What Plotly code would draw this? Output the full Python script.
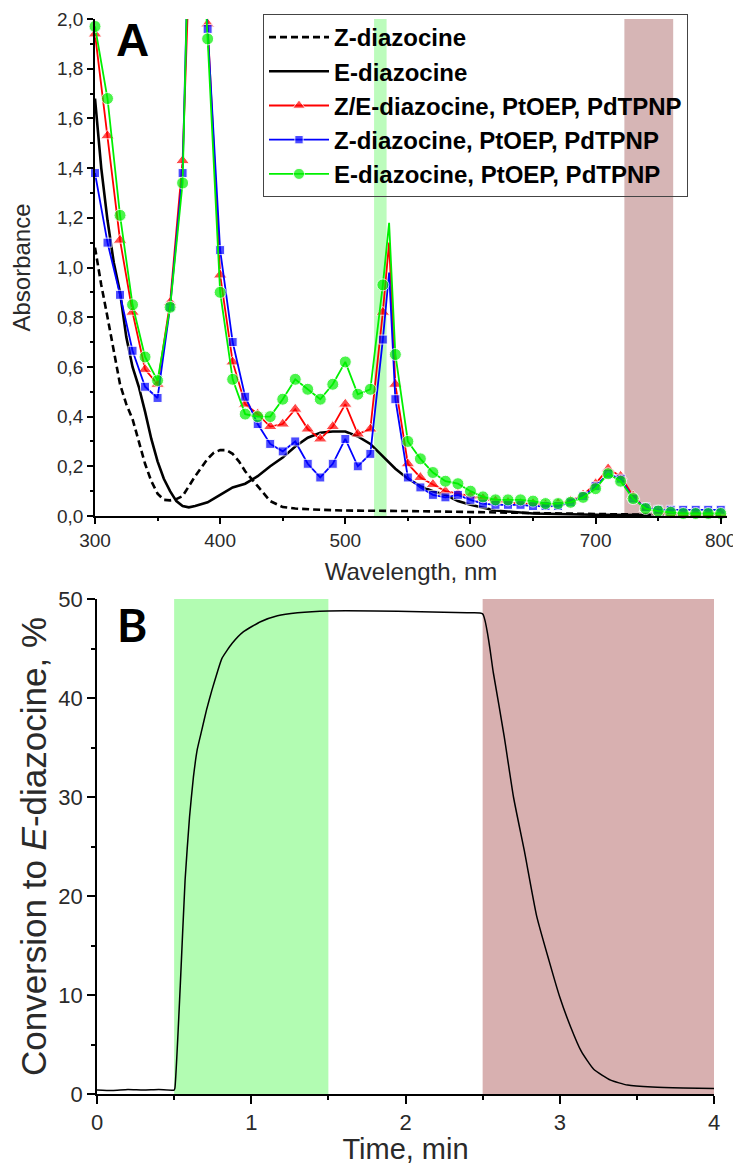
import plotly.graph_objects as go

# ---------------- Panel A data ----------------
wl_Z = [300, 305, 310, 315, 320, 325, 330, 335, 340, 345, 350, 355, 360, 365, 370, 380, 390, 395,
        400, 405, 410, 415, 420, 430, 440, 450, 460, 480, 500, 550, 600, 650, 700, 750, 800]
abs_Z = [1.08, 0.93, 0.80, 0.66, 0.53, 0.45, 0.39, 0.30, 0.21, 0.14, 0.09, 0.065, 0.063, 0.068, 0.08,
         0.16, 0.23, 0.255, 0.265, 0.265, 0.25, 0.22, 0.18, 0.12, 0.06, 0.036, 0.03, 0.025, 0.022,
         0.02, 0.015, 0.01, 0.008, 0.005, 0.004]

wl_E = [300, 305, 310, 315, 320, 325, 330, 335, 340, 345, 350, 355, 360, 365, 370, 375, 380, 390,
        400, 410, 420, 430, 440, 450, 460, 470, 480, 490, 500, 510, 520, 530, 540, 550, 560, 570,
        580, 590, 600, 620, 650, 700, 750, 800]
abs_E = [1.68, 1.40, 1.19, 1.02, 0.90, 0.72, 0.60, 0.52, 0.42, 0.31, 0.22, 0.15, 0.10, 0.06, 0.04,
         0.035, 0.04, 0.055, 0.085, 0.115, 0.13, 0.16, 0.20, 0.235, 0.28, 0.315, 0.335, 0.34, 0.34,
         0.32, 0.29, 0.24, 0.19, 0.15, 0.12, 0.10, 0.085, 0.06, 0.045, 0.022, 0.01, 0.005, 0.003, 0.003]

wl_mix = [300, 310, 320, 330, 340, 350, 360, 370, 375, 380, 385, 390, 400, 410, 420, 430, 440, 450,
          460, 470, 480, 490, 500, 510, 520, 530, 535, 540, 550, 560, 570, 580, 590, 600, 610, 620,
          630, 640, 650, 660, 670, 680, 690, 700, 710, 720, 730, 740, 750, 760, 770, 780, 790, 800]

abs_ZE_sens = [1.94, 1.53, 1.11, 0.82, 0.59, 0.53, 0.86, 1.43, 2.4, 2.9, 2.4, 1.98, 0.97, 0.62, 0.45,
               0.41, 0.36, 0.37, 0.43, 0.35, 0.31, 0.36, 0.45, 0.33, 0.35, 0.82, 1.10, 0.53, 0.21,
               0.155, 0.127, 0.10, 0.09, 0.08, 0.07, 0.06, 0.055, 0.05, 0.05, 0.045, 0.05, 0.06,
               0.085, 0.13, 0.19, 0.16, 0.08, 0.03, 0.015, 0.01, 0.01, 0.01, 0.01, 0.01]

abs_Z_sens = [1.38, 1.10, 0.89, 0.665, 0.52, 0.475, 0.84, 1.38, 2.4, 2.9, 2.4, 1.96, 1.07, 0.70, 0.48,
              0.37, 0.29, 0.26, 0.30, 0.21, 0.155, 0.21, 0.31, 0.20, 0.25, 0.71, 0.98, 0.47, 0.155,
              0.115, 0.085, 0.075, 0.085, 0.065, 0.05, 0.045, 0.045, 0.045, 0.04, 0.04, 0.04, 0.055,
              0.08, 0.12, 0.17, 0.15, 0.07, 0.035, 0.025, 0.025, 0.025, 0.025, 0.025, 0.025]

abs_E_sens = [1.97, 1.68, 1.21, 0.85, 0.64, 0.545, 0.84, 1.34, 2.4, 2.9, 2.4, 1.92, 0.90, 0.55, 0.41,
              0.40, 0.40, 0.47, 0.55, 0.51, 0.47, 0.53, 0.62, 0.49, 0.51, 0.93, 1.18, 0.65, 0.30,
              0.23, 0.175, 0.14, 0.13, 0.10, 0.077, 0.065, 0.065, 0.065, 0.06, 0.05, 0.05, 0.055,
              0.075, 0.11, 0.17, 0.14, 0.07, 0.03, 0.02, 0.015, 0.01, 0.01, 0.01, 0.01]

band_green_A = [523, 533]
band_red_A = [723, 762]

# ---------------- Panel B data ----------------
t_min = [0, 0.1, 0.2, 0.3, 0.4, 0.5, 0.505, 0.54, 0.571, 0.60, 0.625, 0.65, 0.68, 0.71, 0.745, 0.78,
         0.81, 0.875, 0.95, 1.06, 1.17, 1.3, 1.5, 1.8, 2.1, 2.4, 2.5, 2.57, 2.64, 2.70, 2.77, 2.85,
         2.93, 3.0, 3.07, 3.14, 3.22, 3.33, 3.44, 3.6, 3.8, 4.0]
conv = [0.4, 0.35, 0.45, 0.4, 0.45, 0.4, 0.6, 11.0, 21.6, 28.0, 32.0, 34.8, 36.8, 38.8, 40.8, 42.6,
        44.0, 45.5, 46.7, 47.7, 48.3, 48.6, 48.8, 48.8, 48.7, 48.6, 48.5, 42.5, 36.1, 30.0, 24.6, 18.0,
        13.5, 9.8, 6.8, 4.3, 2.5, 1.4, 0.9, 0.7, 0.6, 0.55]

band_green_B = [0.5, 1.5]
band_red_B = [2.5, 4.0]

# page has an 8px body margin: figure is sized so it fills the 741x1165 window
OFF = 8
W, H = 741 - OFF, 1165 - OFF
FONT = "Liberation Sans, Arial, sans-serif"
TICKC = "#2a2a2a"
GREEN = "#00f000"


def px_x(x):
    return (x - OFF) / W


def px_y(y):
    return (H - (y - OFF)) / H


def msizes(wl, vals, s):
    return [s if (w % 10 == 0 and v <= 2.0) else 0 for w, v in zip(wl, vals)]


fig = go.Figure()

fig.add_trace(go.Scatter(x=wl_Z, y=abs_Z, mode="lines", name="Z-diazocine",
                         line=dict(color="black", width=2.6, dash="7px,4px"),
                         xaxis="x", yaxis="y"))
fig.add_trace(go.Scatter(x=wl_E, y=abs_E, mode="lines", name="E-diazocine",
                         line=dict(color="black", width=2.6),
                         xaxis="x", yaxis="y"))
fig.add_trace(go.Scatter(x=wl_mix, y=abs_ZE_sens, mode="lines+markers",
                         name="Z/E-diazocine, PtOEP, PdTPNP",
                         line=dict(color="#ff0000", width=1.8),
                         marker=dict(symbol="triangle-up", color="#ff0000",
                                     size=msizes(wl_mix, abs_ZE_sens, 12)),
                         cliponaxis=False, xaxis="x", yaxis="y"))
fig.add_trace(go.Scatter(x=wl_mix, y=abs_Z_sens, mode="lines+markers",
                         name="Z-diazocine, PtOEP, PdTPNP",
                         line=dict(color="#0000ff", width=1.8),
                         marker=dict(symbol="square", color="#0000ff",
                                     size=msizes(wl_mix, abs_Z_sens, 9)),
                         cliponaxis=False, xaxis="x", yaxis="y"))
fig.add_trace(go.Scatter(x=wl_mix, y=abs_E_sens, mode="lines+markers",
                         name="E-diazocine, PtOEP, PdTPNP",
                         line=dict(color=GREEN, width=1.8),
                         marker=dict(symbol="circle", color=GREEN,
                                     size=msizes(wl_mix, abs_E_sens, 12)),
                         cliponaxis=False, xaxis="x", yaxis="y"))

fig.add_trace(go.Scatter(x=t_min, y=conv, mode="lines", showlegend=False,
                         line=dict(color="black", width=1.5, shape="spline", smoothing=0.5),
                         xaxis="x2", yaxis="y2"))

shapes = [
    dict(type="rect", xref="x", yref="y", x0=band_green_A[0], x1=band_green_A[1], y0=0, y1=2,
         fillcolor="rgb(188,252,188)", line=dict(width=0), layer="below"),
    dict(type="rect", xref="x", yref="y", x0=band_red_A[0], x1=band_red_A[1], y0=0, y1=2,
         fillcolor="rgb(214,181,181)", line=dict(width=0), layer="below"),
    dict(type="rect", xref="x2", yref="y2", x0=band_green_B[0], x1=band_green_B[1], y0=0, y1=50,
         fillcolor="rgb(178,252,178)", line=dict(width=0), layer="below"),
    dict(type="rect", xref="x2", yref="y2", x0=band_red_B[0], x1=band_red_B[1], y0=0, y1=50,
         fillcolor="rgb(216,176,176)", line=dict(width=0), layer="below"),
]

axis_common = dict(showline=True, linecolor="black", linewidth=1.5, showgrid=False,
                   zeroline=False, ticks="outside", tickcolor="black", tickwidth=1.5,
                   automargin=False, ticklabeloverflow="allow")

fig.update_layout(
    width=W, height=H,
    margin=dict(l=0, r=0, t=0, b=0, autoexpand=False),
    paper_bgcolor="white", plot_bgcolor="rgba(0,0,0,0)",
    separators=",.",
    font=dict(family=FONT, color=TICKC),
    shapes=shapes,
    xaxis=dict(domain=[px_x(95), px_x(727)], range=[300, 805], anchor="y",
               tickvals=[300, 400, 500, 600, 700, 800], ticklen=6,
               minor=dict(tickvals=[350, 450, 550, 650, 750], ticklen=3, ticks="outside",
                          tickcolor="black", tickwidth=1.5),
               tickfont=dict(size=19, color=TICKC),
               title=dict(text="Wavelength, nm", font=dict(size=24, color=TICKC), standoff=14),
               **axis_common),
    yaxis=dict(domain=[px_y(516), px_y(19)], range=[0, 2], anchor="x",
               dtick=0.2, tick0=0, tickformat=".1f", ticklen=6,
               minor=dict(dtick=0.1, ticklen=3, ticks="outside", tickcolor="black", tickwidth=1.5),
               tickfont=dict(size=19, color=TICKC),
               title=dict(text="Absorbance", font=dict(size=24, color=TICKC), standoff=29),
               **axis_common),
    xaxis2=dict(domain=[px_x(97), px_x(714)], range=[0, 4], anchor="y2",
                dtick=1, tick0=0, ticklen=8,
                minor=dict(dtick=0.5, ticklen=4, ticks="outside", tickcolor="black", tickwidth=1.5),
                tickfont=dict(size=22, color=TICKC),
                title=dict(text="Time, min", font=dict(size=29, color=TICKC), standoff=0),
                **axis_common),
    yaxis2=dict(domain=[px_y(1094), px_y(599)], range=[0, 50], anchor="x2",
                dtick=10, tick0=0, ticklen=8,
                minor=dict(dtick=5, ticklen=4, ticks="outside", tickcolor="black", tickwidth=1.5),
                tickfont=dict(size=22, color=TICKC),
                title=dict(text="Conversion to <i>E</i>-diazocine, %",
                           font=dict(size=35, color=TICKC), standoff=1),
                **axis_common),
    legend=dict(x=px_x(263), y=px_y(14), xanchor="left", yanchor="top",
                bordercolor="#444", borderwidth=1, bgcolor="rgba(0,0,0,0)",
                font=dict(family=FONT, size=24, color="black", weight="bold"),
                itemwidth=60),
    annotations=[
        dict(text="<b>A</b>", x=px_x(132), y=px_y(40), xref="paper", yref="paper",
             xanchor="center", yanchor="middle",
             showarrow=False, font=dict(size=46, color="black", family=FONT)),
        dict(text="<b>B</b>", x=px_x(132), y=px_y(624), xref="paper", yref="paper",
             xanchor="center", yanchor="middle",
             showarrow=False, font=dict(size=46, color="black", family="Lato, " + FONT)),
    ],
)

fig.write_html("out.html")
